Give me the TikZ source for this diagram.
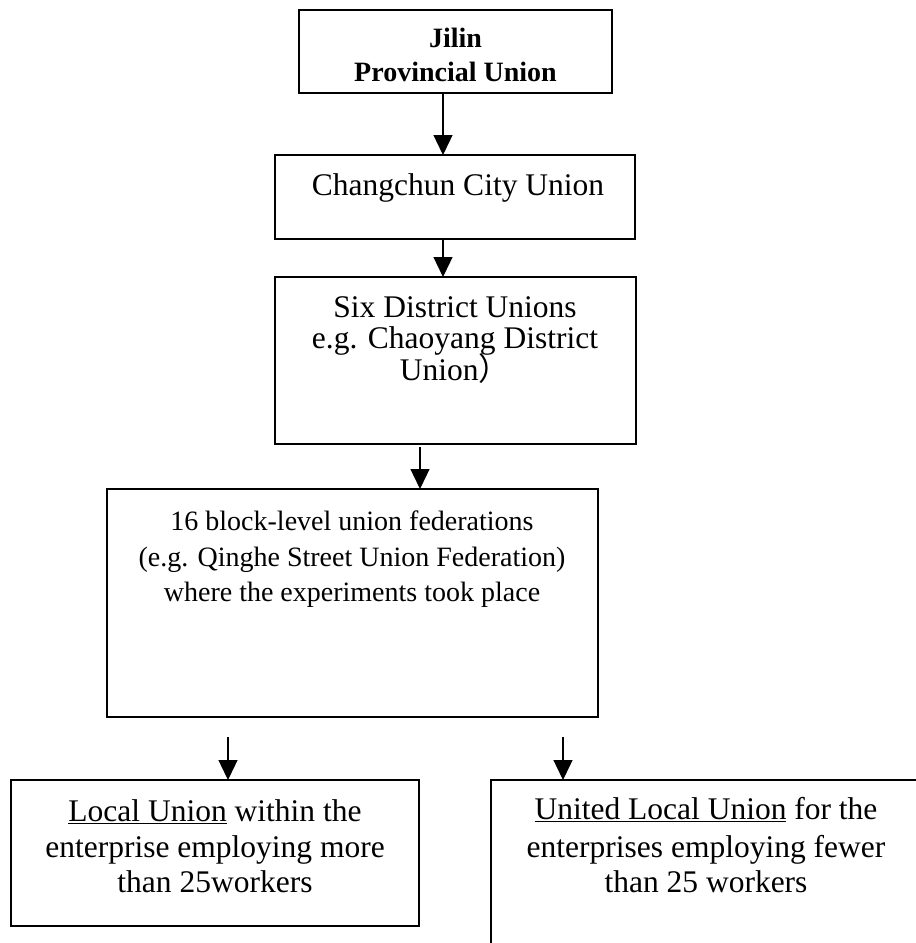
\documentclass[tikz,border=0pt]{standalone}
\usepackage{fontspec}
\setmainfont{Liberation Serif}
\newfontfamily\cjkfont{Noto Sans CJK SC}
\usetikzlibrary{arrows.meta}
\begin{document}
\begin{tikzpicture}[x=1pt,y=-1pt,
  boxnode/.style={draw, line width=1.3pt, inner sep=0pt, outer sep=0pt},
  arr/.style={line width=1.3pt, -{Triangle[length=20pt,width=19pt]}},
  ttop/.style={anchor=base, inner sep=0pt, font=\fontsize{28}{34}\selectfont\bfseries},
  tbig/.style={anchor=base, inner sep=0pt, font=\fontsize{31.5}{36}\selectfont},
  tmid/.style={anchor=base, inner sep=0pt, font=\fontsize{28}{34}\selectfont}
]
\useasboundingbox (0,0) rectangle (916,943);
\clip (0,0) rectangle (916,943);
\fill[white] (0,0) rectangle (916,943);

% boxes
\node[boxnode, minimum width=313pt, minimum height=83pt] (b1) at (455.5,51.5) {};
\node[boxnode, minimum width=360pt, minimum height=84pt] (b2) at (455,197) {};
\node[boxnode, minimum width=361pt, minimum height=167pt] (b3) at (455.5,360.5) {};
\node[boxnode, minimum width=491pt, minimum height=228pt] (b4) at (352.5,603) {};
\node[boxnode, minimum width=408pt, minimum height=146pt] (b5) at (215,853) {};
\node[boxnode, minimum width=460pt, minimum height=200pt] (b6) at (721,880) {};

% texts
\node[ttop] (t1a) at (455.5,47) {Jilin};
\node[ttop] (t1b) at (455.5,81) {Provincial Union};

\node[tbig] (t2a) at (458,195) {Changchun City Union};

\node[tbig] (t3a) at (455,317) {Six District Unions};
\node[tbig] (t3b) at (455,348) {e.g. Chaoyang District};
\node[tbig] (t3c) at (455,380) {Union{\cjkfont ）}};

\node[tmid] (t4a) at (352,530) {16 block-level union federations};
\node[tmid] (t4b) at (352,566) {(e.g. Qinghe Street Union Federation)};
\node[tmid] (t4c) at (352,601) {where the experiments took place};

\node[tbig] (t5a) at (215,821) {\underline{Local Union} within the};
\node[tbig] (t5b) at (215,857) {enterprise employing more};
\node[tbig] (t5c) at (215,892) {than 25workers};

\node[tbig] (t6a) at (706,819) {\underline{United Local Union} for the};
\node[tbig] (t6b) at (706,857) {enterprises employing fewer};
\node[tbig] (t6c) at (706,892) {than 25 workers};

% connectors
\draw[arr] ([xshift=-12.5pt]b1.south) -- ([xshift=-12pt]b2.north);
\draw[arr] ([xshift=-12pt]b2.south) -- ([xshift=-12.5pt]b3.north);
\draw[arr] ([xshift=-35.5pt,yshift=-3pt]b3.south) -- ([xshift=67.5pt]b4.north);
\draw[arr] ([xshift=-124.5pt,yshift=-20pt]b4.south) -- ([xshift=13pt]b5.north);
\draw[arr] ([xshift=210.5pt,yshift=-20pt]b4.south) -- ([xshift=72pt]b6.north west);
\end{tikzpicture}
\end{document}
